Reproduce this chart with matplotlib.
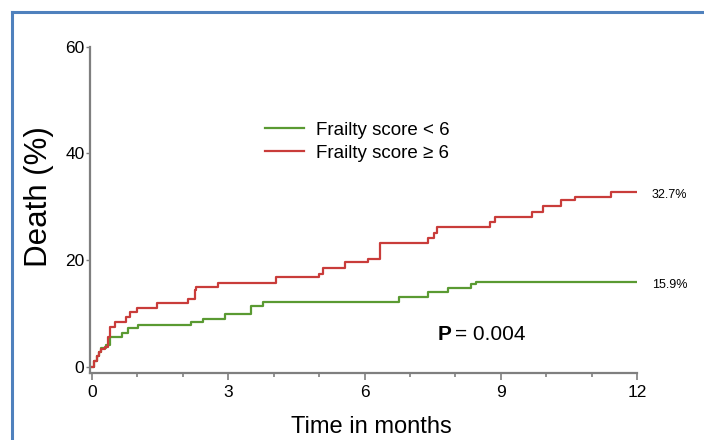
import matplotlib
matplotlib.use("Agg")
import matplotlib.pyplot as plt
from matplotlib.lines import Line2D

plt.rcParams['font.family'] = ['Liberation Sans', 'DejaVu Sans']

# Kaplan-Meier style cumulative death curves
t_low = [0, 0.05, 0.1, 0.15, 0.2, 0.3, 0.4, 0.65, 0.8, 1.02, 2.19, 2.45, 2.92,
         3.51, 3.77, 6.77, 7.39, 7.83, 8.34, 8.45, 12]
death_low = [0, 1.0, 2.0, 2.8, 3.6, 4.0, 5.6, 6.3, 7.2, 7.8, 8.4, 9.0, 9.8,
             11.4, 12.2, 13.0, 14.0, 14.8, 15.5, 15.9, 15.9]

t_high = [0, 0.05, 0.1, 0.15, 0.2, 0.29, 0.35, 0.4, 0.5, 0.75, 0.84, 1.0, 1.42,
          2.12, 2.26, 2.3, 2.78, 4.05, 5.0, 5.08, 5.58, 6.08, 6.35, 7.4, 7.53,
          7.6, 8.76, 8.87, 9.69, 9.93, 10.33, 10.64, 11.43, 12]
death_high = [0, 1.0, 2.0, 2.8, 3.4, 3.7, 5.6, 7.4, 8.4, 9.3, 10.2, 11.0, 11.9,
              12.7, 14.3, 14.9, 15.7, 16.8, 17.4, 18.5, 19.6, 20.2, 23.2, 24.1, 25.1,
              26.2, 27.1, 28.1, 29.0, 30.2, 31.2, 31.8, 32.7, 32.7]

labels = ["Frailty score < 6", "Frailty score \u2265 6"]
end_labels = ["15.9%", "32.7%"]
p_text = "0.004"

green = '#5a9a32'
red = '#c93c3a'
grey = '#7f7f7f'

fig = plt.figure(figsize=(7.04, 4.40), dpi=100)
ax = fig.add_axes([90 / 704, 67.5 / 440, 547 / 704, 327.5 / 440])

ax.step(t_low, death_low, where='post', color=green, lw=1.6, label=labels[0])
ax.step(t_high, death_high, where='post', color=red, lw=1.6, label=labels[1])

ax.set_xlim(-0.045, 12)
ax.set_ylim(-1.08, 60.3)
ax.set_xticks([0, 3, 6, 9, 12])
ax.set_xticks(range(0, 13), minor=True)
ax.set_yticks([0, 20, 40, 60])

for s in ['top', 'right']:
    ax.spines[s].set_visible(False)
for s in ['left', 'bottom']:
    ax.spines[s].set_color(grey)
    ax.spines[s].set_linewidth(1.6)
ax.spines['left'].set_bounds(-1.08, 60)

ax.tick_params(axis='x', which='major', length=5, width=1.2, color=grey,
               labelsize=12.5, pad=4)
ax.tick_params(axis='x', which='minor', length=3, width=1.2, color=grey)
ax.tick_params(axis='y', length=3, width=1.0, color=grey, labelsize=12.5, pad=1)

ax.set_xlabel("Time in months", fontsize=17)
ax.xaxis.set_label_coords(0.514, -0.134)
ax.set_ylabel("Death (%)", fontsize=22.5)
ax.yaxis.set_label_coords(-0.065, 0.536)

ax.legend(loc='upper left', bbox_to_anchor=(0.32, 0.766), frameon=False,
          fontsize=13.5, handlelength=2.1, handletextpad=0.6, labelspacing=0.3,
          borderpad=0, borderaxespad=0)

ax.text(12.33, death_high[-1] - 0.6, end_labels[1], fontsize=9, va='center',
        ha='left', clip_on=False)
ax.text(12.33, death_low[-1] - 0.6, end_labels[0], fontsize=9, va='center',
        ha='left', clip_on=False)
ax.text(7.6, 6.0, "P", fontsize=15, fontweight='bold', va='center', ha='left')
ax.text(7.99, 6.0, "= " + p_text, fontsize=15, va='center', ha='left')

# blue frame on the top and left edges
frame = dict(color='#4f81bd', lw=2.2, transform=fig.transFigure)
fig.add_artist(Line2D([11.5 / 704, 1], [1 - 12.5 / 440] * 2, **frame))
fig.add_artist(Line2D([11.5 / 704] * 2, [0, 1 - 12.5 / 440], **frame))

fig.savefig("out.png", dpi=100)
